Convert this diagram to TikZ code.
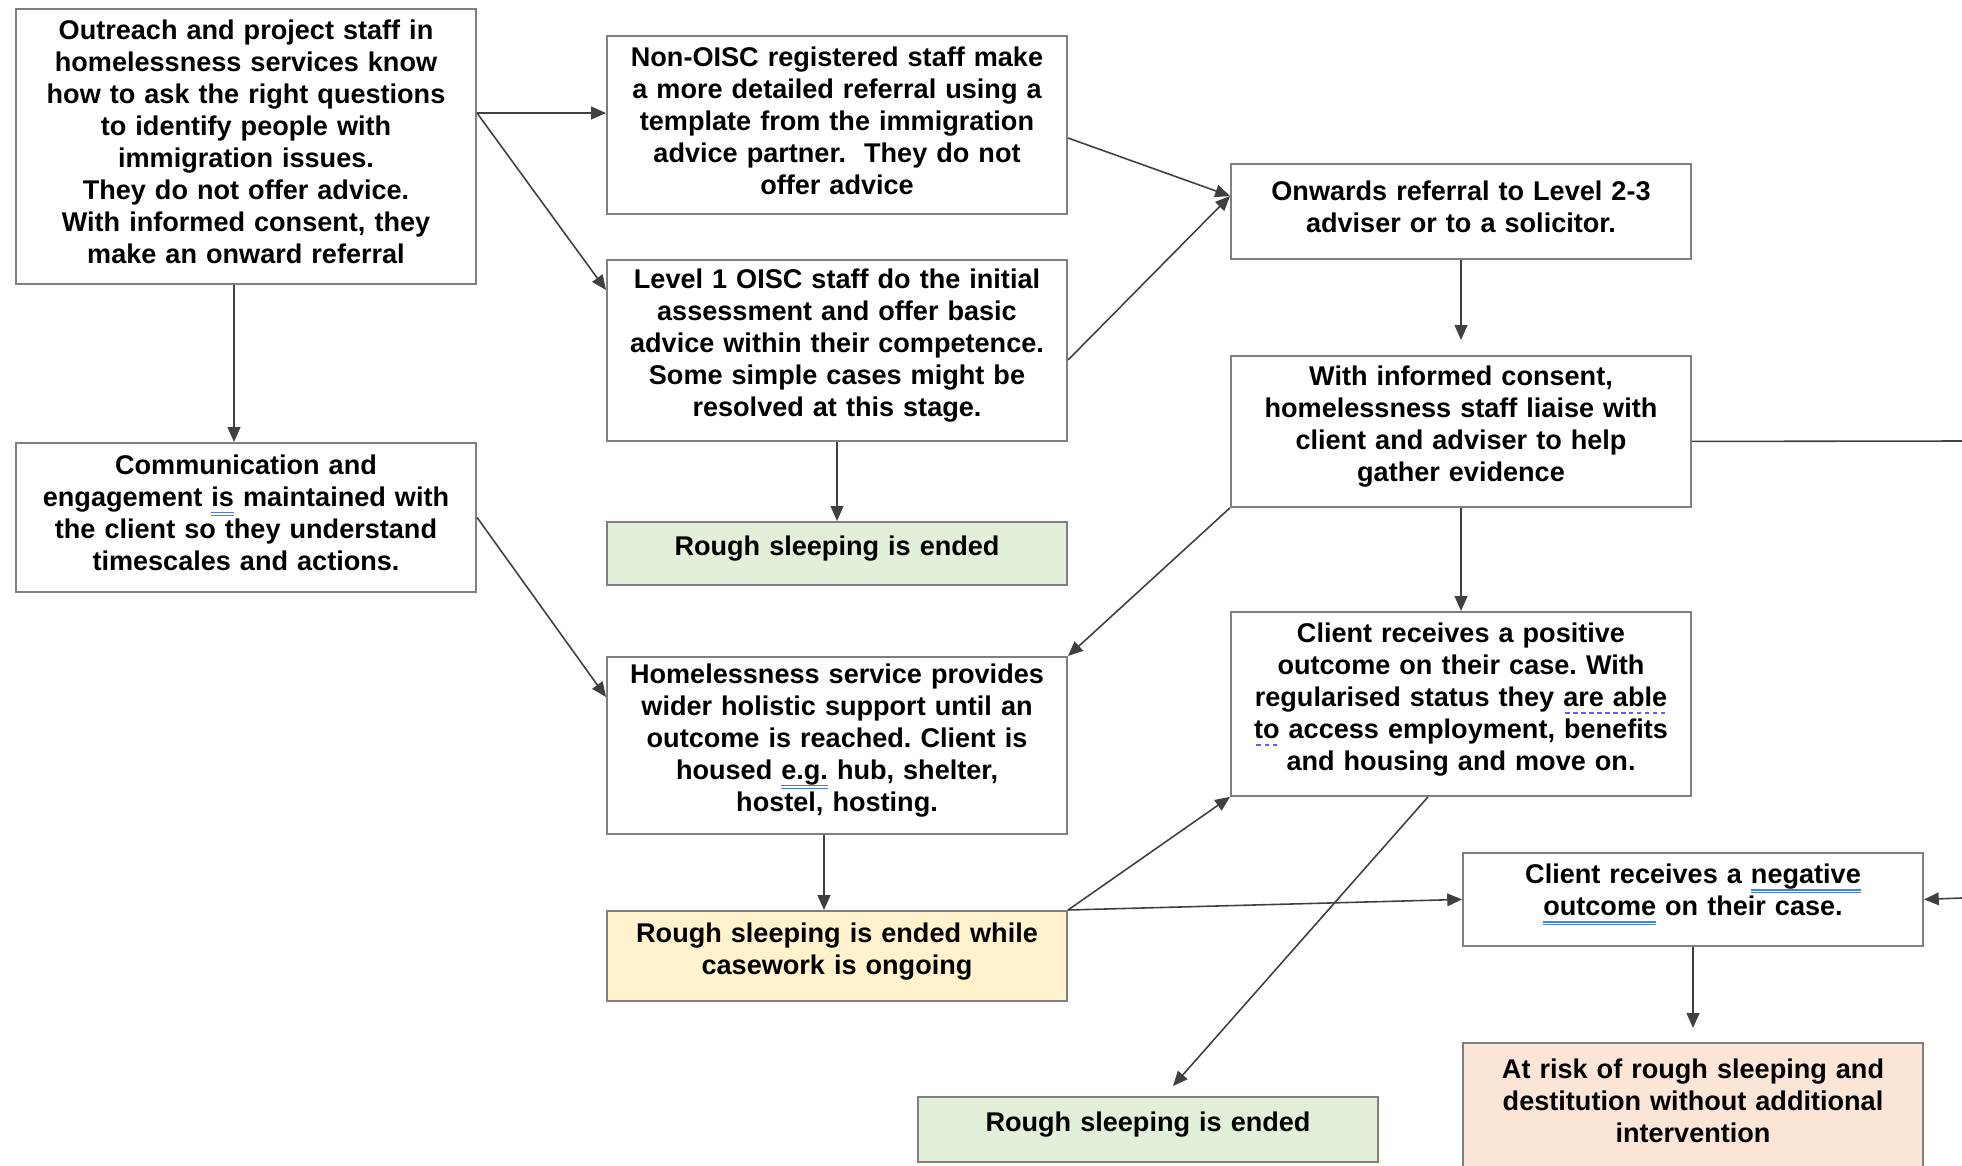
\documentclass[tikz,border=0pt]{standalone}
\usepackage{fontspec}
\setmainfont{Liberation Sans}
\usepackage{xcolor}
\usepackage{tikz}
\usetikzlibrary{arrows.meta, positioning, calc}
\frenchspacing
\definecolor{boxdraw}{HTML}{7F7F7F}
\definecolor{endfill}{HTML}{E2EFD9}
\definecolor{keepfill}{HTML}{FFF2CC}
\definecolor{riskfill}{HTML}{FBE5D6}
\definecolor{gramline}{HTML}{4A7FE0}
\definecolor{styleline}{HTML}{6B5CE7}
\newsavebox{\markbox}
\newcommand{\grammark}[1]{\leavevmode\sbox{\markbox}{#1}%
  \rlap{\color{gramline}\vrule height -1.5pt depth 1.85pt width \wd\markbox}%
  \rlap{\color{gramline}\vrule height -2.3pt depth 2.65pt width \wd\markbox}%
  \usebox{\markbox}}
\newcommand{\stylemark}[1]{\leavevmode\sbox{\markbox}{#1}%
  \rlap{\hbox to \wd\markbox{\color{styleline}\xleaders\hbox to 2.2pt{\hss\vrule height -1.7pt depth 2.3pt width 1.3pt\hss}\hfill}}%
  \usebox{\markbox}}
\tikzset{
  stage/.style={rectangle, draw=boxdraw, fill=white, line width=0.5pt, align=center, anchor=north west,
    font=\fontsize{7.7}{9.1}\selectfont\bfseries, text width=4.5cm, execute at end node={\par\kern2.6pt},
    inner xsep=0.5mm, inner ysep=2pt, minimum width=4.6cm},
  ended/.style={stage, fill=endfill},
  ongoing/.style={stage, fill=keepfill},
  atrisk/.style={stage, fill=riskfill},
  arr/.style={-{Triangle[length=4.2pt, width=3.6pt]}, line width=0.45pt, draw=black!75},
  plain/.style={line width=0.45pt, draw=black!75},
}

\begin{document}
\begin{tikzpicture}[x=0.01cm, y=-0.01cm]
  \useasboundingbox (0,0) rectangle (1962,1166);
  \clip (0,0) rectangle (1962,1166);
  % left column
  \node[stage, minimum height=2.75cm] (outreach) at (15,8)
    {Outreach and project staff in\\homelessness services know\\how to ask the right questions\\to identify people with\\immigration issues.\\They do not offer advice.\\With informed consent, they\\make an onward referral};
  \node[stage, minimum height=1.49cm] (comms) at (15,442)
    {Communication and\\engagement \grammark{is} maintained with\\the client so they understand\\timescales and actions.};
  % middle column
  \node[stage, minimum height=1.78cm] (nonoisc) at (606,35)
    {Non-OISC registered staff make\\a more detailed referral using a\\template from the immigration\\advice partner.\ \ They do not\\offer advice};
  \node[stage, minimum height=1.81cm] (level1) at (606,259)
    {Level 1 OISC staff do the initial\\assessment and offer basic\\advice within their competence.\\Some simple cases might be\\resolved at this stage.};
  \node[ended, minimum height=0.63cm] (ended1) at (606,521) {Rough sleeping is ended};
  \node[stage, minimum height=1.77cm] (support) at (606,656)
    {Homelessness service provides\\wider holistic support until an\\outcome is reached. Client is\\housed \grammark{e.g.} hub, shelter,\\hostel, hosting.};
  \node[ongoing, minimum height=0.90cm] (ongoing) at (606,910)
    {Rough sleeping is ended while\\casework is ongoing};
  \node[ended, minimum height=0.65cm] (ended2) at (917,1096) {Rough sleeping is ended};
  % right column
  \node[stage, minimum height=0.95cm] (onwards) at (1230,163)
    {Onwards referral to Level 2-3\\adviser or to a solicitor.};
  \node[stage, minimum height=1.51cm] (liaise) at (1230,355)
    {With informed consent,\\homelessness staff liaise with\\client and adviser to help\\gather evidence};
  \node[stage, minimum height=1.84cm] (positive) at (1230,611)
    {Client receives a positive\\outcome on their case. With\\regularised status they \stylemark{are able}\\\stylemark{to} access employment, benefits\\and housing and move on.};
  \node[stage, minimum height=0.93cm] (negative) at (1462,852)
    {Client receives a \grammark{negative}\\\grammark{outcome} on their case.};
  \node[atrisk, minimum height=1.25cm] (atrisk) at (1462,1042)
    {At risk of rough sleeping and\\destitution without additional\\intervention};
  \coordinate (outr) at (1962,441);
  \coordinate (inr) at (1962,898);
  \coordinate (fork) at ($(outreach.north east)+(0,105)$);
  \coordinate (hin) at ($(onwards.north west)+(0,33)$);
  % connectors
  \draw[arr] (fork) -- (fork -| nonoisc.west);
  \draw[arr] (fork) -- ($(level1.north west)+(0,31)$);
  \draw[arr] ([xshift=-0.12cm]outreach.south) -- ([xshift=-0.12cm]comms.north);
  \draw[arr] ($(nonoisc.north east)+(0,103)$) -- (hin);
  \draw[arr] ($(level1.north east)+(0,101)$) -- (hin);
  \draw[arr] (level1.south) -- (ended1.north);
  \draw[arr] (comms.east) -- ($(support.north west)+(0,41)$);
  \draw[arr] (liaise.south west) -- (support.north east);
  \draw[arr] (onwards.south) -- ([yshift=0.15cm]liaise.north);
  \draw[arr] (liaise.south) -- (positive.north);
  \draw[arr] ([xshift=-0.13cm]support.south) -- ([xshift=-0.13cm]ongoing.north);
  \draw[arr] (ongoing.north east) -- (positive.south west);
  \draw[arr] (ongoing.north east) -- (negative.west);
  \draw[arr] ([xshift=-0.33cm]positive.south) -- ([xshift=0.25cm, yshift=0.1cm]ended2.north);
  \draw[arr] (negative.south) -- ([yshift=0.14cm]atrisk.north);
  \draw[plain] ([yshift=-0.1cm]liaise.east) -- (outr);
  \draw[arr] (inr) -- (negative.east);
\end{tikzpicture}
\end{document}
